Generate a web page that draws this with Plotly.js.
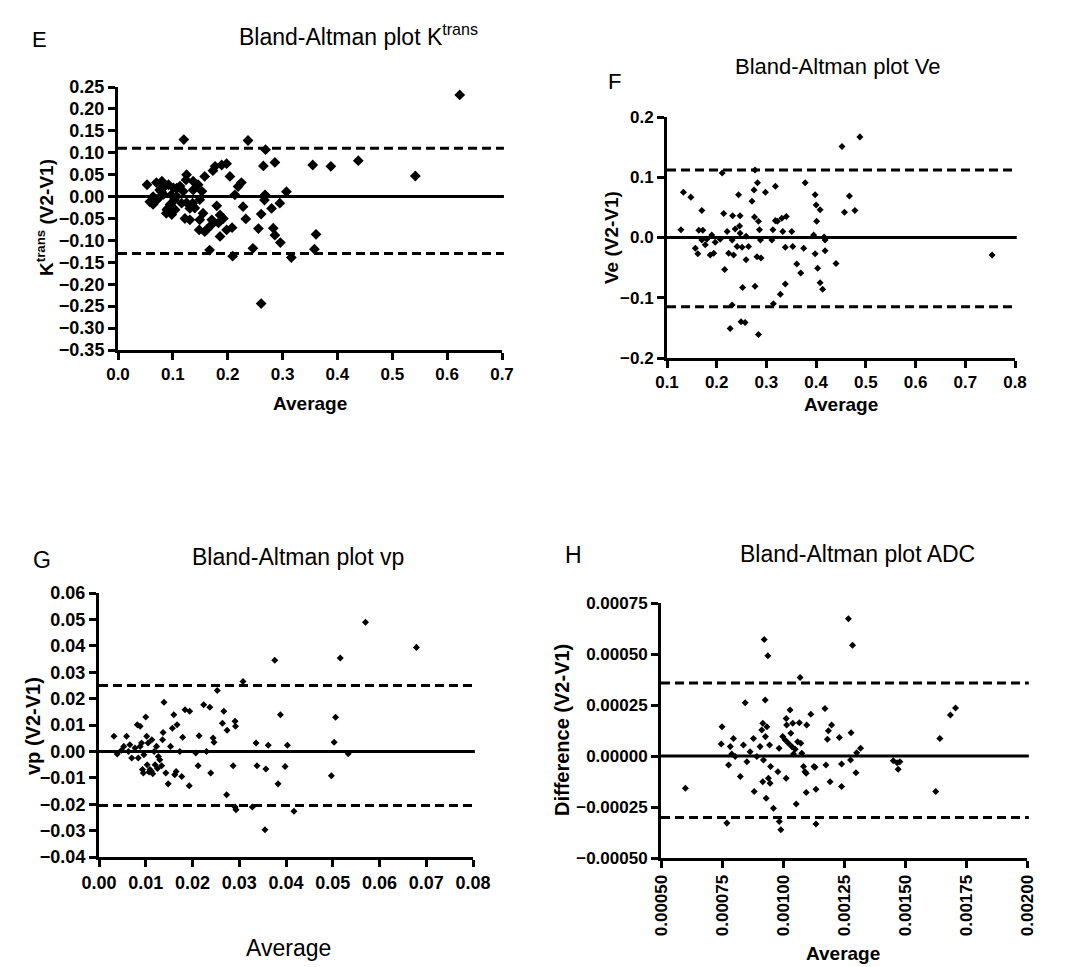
<!DOCTYPE html>
<html>
<head>
<meta charset="utf-8">
<script src="https://cdn.plot.ly/plotly-3.0.1.min.js"></script>
<style>
  html, body { margin: 0; padding: 0; background: #ffffff; }
  #chart { width: 1087px; height: 967px; }
</style>
</head>
<body>
<div id="chart"></div>
<script>
// Panel E: Ktrans
const eAvg = [0.053,0.058,0.064,0.064,0.070,0.070,0.073,0.076,0.079,0.080,0.083,0.085,0.088,0.089,0.091,0.092,0.095,0.097,0.098,0.101,0.103,0.104,0.107,0.107,0.113,0.116,0.119,0.120,0.122,0.124,0.125,0.125,0.131,0.131,0.136,0.137,0.137,0.140,0.146,0.148,0.149,0.149,0.153,0.155,0.158,0.158,0.162,0.167,0.170,0.171,0.173,0.177,0.180,0.183,0.186,0.186,0.189,0.192,0.198,0.198,0.204,0.208,0.209,0.213,0.219,0.225,0.228,0.233,0.237,0.246,0.256,0.261,0.261,0.265,0.267,0.268,0.269,0.280,0.283,0.286,0.286,0.295,0.296,0.307,0.316,0.355,0.358,0.361,0.388,0.438,0.542,0.623];
const eDiff = [0.027,-0.012,-0.018,0.000,-0.007,0.032,-0.005,0.015,0.011,0.035,0.005,0.023,-0.038,-0.030,-0.027,0.027,-0.018,0.004,-0.041,0.020,-0.008,-0.030,0.001,0.019,0.024,-0.015,0.012,0.130,-0.050,0.038,0.050,-0.014,-0.027,-0.053,-0.015,0.015,0.035,-0.026,0.027,-0.076,-0.053,-0.007,0.012,-0.038,0.046,-0.080,-0.075,-0.122,-0.065,-0.053,0.059,0.069,-0.021,-0.060,-0.042,-0.091,0.072,-0.050,0.075,-0.076,0.046,-0.071,-0.136,0.004,0.023,0.032,-0.023,-0.051,0.128,-0.118,-0.073,-0.040,-0.244,0.070,-0.008,0.004,0.107,-0.027,-0.072,0.078,-0.088,-0.015,-0.105,0.011,-0.139,0.072,-0.120,-0.086,0.069,0.082,0.047,0.232];
const eLines = [0.11, 0, -0.13];

// Panel F: Ve
const fAvg = [0.128,0.133,0.148,0.157,0.162,0.164,0.170,0.172,0.170,0.177,0.180,0.187,0.190,0.194,0.197,0.207,0.211,0.214,0.216,0.221,0.224,0.227,0.231,0.232,0.231,0.234,0.237,0.241,0.244,0.247,0.246,0.247,0.249,0.251,0.252,0.257,0.259,0.259,0.264,0.271,0.275,0.277,0.277,0.276,0.281,0.282,0.284,0.284,0.286,0.289,0.288,0.298,0.311,0.313,0.314,0.318,0.318,0.322,0.328,0.331,0.333,0.340,0.338,0.338,0.351,0.353,0.361,0.369,0.375,0.378,0.395,0.398,0.398,0.400,0.401,0.403,0.408,0.408,0.413,0.416,0.418,0.418,0.440,0.452,0.457,0.467,0.478,0.488,0.754];
const fDiff = [0.013,0.075,0.067,-0.018,-0.027,0.012,0.045,0.012,-0.004,-0.012,-0.003,-0.029,0.004,-0.026,-0.008,-0.003,0.107,0.040,-0.053,0.010,-0.026,-0.151,-0.112,0.036,-0.004,-0.029,0.014,-0.015,0.071,0.036,0.019,0.007,-0.140,-0.016,-0.083,-0.141,0.002,-0.037,-0.015,0.060,0.079,0.112,-0.081,0.034,-0.032,0.091,-0.161,0.027,0.013,-0.034,-0.004,0.075,-0.004,0.013,-0.110,0.085,0.028,0.027,-0.094,0.032,0.010,0.035,-0.077,-0.016,0.010,-0.015,-0.044,-0.059,-0.018,0.091,0.004,0.071,-0.027,0.054,0.027,-0.051,0.046,-0.075,-0.086,0.001,-0.022,-0.004,-0.043,0.151,0.042,0.069,0.045,0.167,-0.029];
const fLines = [0.112, 0, -0.115];

// Panel G: vp
const gAvg = [0.0032,0.0039,0.0048,0.0053,0.0059,0.0063,0.0066,0.0070,0.0077,0.0082,0.0088,0.0084,0.0088,0.0091,0.0093,0.0095,0.0096,0.0100,0.0102,0.0103,0.0105,0.0109,0.0113,0.0115,0.0118,0.0120,0.0123,0.0127,0.0130,0.0134,0.0136,0.0137,0.0139,0.0143,0.0148,0.0153,0.0157,0.0160,0.0162,0.0165,0.0167,0.0173,0.0177,0.0179,0.0184,0.0194,0.0193,0.0207,0.0212,0.0214,0.0224,0.0230,0.0237,0.0239,0.0244,0.0246,0.0253,0.0264,0.0267,0.0273,0.0274,0.0287,0.0291,0.0292,0.0293,0.0291,0.0308,0.0328,0.0336,0.0338,0.0355,0.0357,0.0362,0.0376,0.0383,0.0388,0.0398,0.0403,0.0417,0.0497,0.0503,0.0506,0.0516,0.0533,0.0570,0.0679,0.0107,0.0112,0.0125];
const gDiff = [0.0057,-0.0010,0.0004,0.0019,0.0057,0.0000,0.0025,-0.0025,0.0013,0.0101,0.0095,-0.0025,0.0019,0.0032,-0.0069,-0.0082,-0.0013,0.0130,0.0057,-0.0051,0.0032,-0.0069,0.0044,-0.0085,0.0000,-0.0051,0.0019,-0.0019,-0.0032,-0.0054,0.0044,0.0072,0.0186,-0.0082,-0.0123,0.0019,0.0088,0.0139,-0.0088,-0.0076,0.0101,0.0000,-0.0095,0.0054,0.0158,0.0152,-0.0130,-0.0006,-0.0054,0.0059,0.0177,0.0000,0.0167,-0.0082,0.0051,0.0035,0.0231,0.0107,0.0152,-0.0164,0.0080,-0.0054,0.0114,0.0095,-0.0221,-0.0211,0.0265,-0.0211,0.0032,-0.0054,-0.0297,-0.0067,0.0023,0.0345,-0.0123,0.0139,-0.0057,0.0023,-0.0227,-0.0092,0.0035,0.0129,0.0354,-0.0009,0.0489,0.0394,-0.0078,-0.0075,-0.0065];
const gLines = [0.025, 0, -0.0205];

// Panel H: ADC
const hAvg = [60.0e-5,75.0e-5,74.7e-5,77.0e-5,77.7e-5,78.4e-5,79.0e-5,79.7e-5,80.4e-5,82.5e-5,83.8e-5,84.5e-5,85.2e-5,86.5e-5,87.9e-5,88.2e-5,89.3e-5,90.6e-5,91.3e-5,91.7e-5,91.7e-5,92.3e-5,92.7e-5,92.8e-5,93.1e-5,93.4e-5,93.8e-5,94.0e-5,94.5e-5,94.7e-5,94.9e-5,92.0e-5,96.1e-5,97.9e-5,98.4e-5,98.5e-5,99.1e-5,99.9e-5,100.9e-5,101.3e-5,101.3e-5,101.5e-5,102.2e-5,102.9e-5,103.2e-5,103.6e-5,104.0e-5,104.3e-5,105.0e-5,105.4e-5,106.0e-5,106.7e-5,107.0e-5,107.3e-5,107.7e-5,108.4e-5,109.0e-5,109.5e-5,109.5e-5,109.7e-5,111.4e-5,112.7e-5,113.1e-5,113.5e-5,113.5e-5,117.2e-5,117.6e-5,118.2e-5,118.6e-5,119.3e-5,119.9e-5,123.1e-5,124.0e-5,124.0e-5,126.8e-5,127.7e-5,127.9e-5,128.5e-5,129.9e-5,130.2e-5,131.8e-5,145.2e-5,146.8e-5,147.2e-5,147.9e-5,162.6e-5,164.3e-5,168.6e-5,170.7e-5];
const hDiff = [-15.8e-5,14.3e-5,5.9e-5,-32.9e-5,-4.4e-5,4.6e-5,1.0e-5,8.6e-5,-0.3e-5,-10.1e-5,5.4e-5,26.1e-5,-2.8e-5,2.1e-5,8.6e-5,-17.4e-5,-0.3e-5,4.6e-5,12.7e-5,16.0e-5,-12.6e-5,57.1e-5,27.4e-5,9.5e-5,-20.7e-5,14.3e-5,49.1e-5,-10.9e-5,5.4e-5,-13.4e-5,-5.2e-5,-2.0e-5,-25.6e-5,-7.7e-5,3.8e-5,-32.1e-5,-36.2e-5,9.5e-5,7.8e-5,18.4e-5,-10.9e-5,15.2e-5,6.2e-5,22.5e-5,11.1e-5,4.6e-5,16.0e-5,1.0e-5,3.3e-5,-23.5e-5,7.0e-5,16.3e-5,38.5e-5,6.2e-5,1.3e-5,-5.2e-5,-7.7e-5,-8.5e-5,-17.9e-5,15.2e-5,20.5e-5,-5.2e-5,-5.5e-5,-16.3e-5,-33.3e-5,23.3e-5,-4.4e-5,8.2e-5,12.4e-5,-12.6e-5,15.2e-5,9.1e-5,-3.9e-5,-15.0e-5,67.3e-5,-2.0e-5,11.4e-5,54.3e-5,-8.2e-5,1.6e-5,3.8e-5,-2.3e-5,-3.3e-5,-6.5e-5,-2.8e-5,-17.4e-5,8.6e-5,20.1e-5,23.5e-5];
const hLines = [0.000358, 0, -0.000302];

const W = 1087, H = 967;
const FONT = 'Liberation Sans';
const px = v => v / W;
const py = v => 1 - v / H;

function scatter(x, y, xa, ya, size) {
  return {
    type: 'scatter', mode: 'markers', x: x, y: y, xaxis: xa, yaxis: ya,
    marker: { symbol: 'diamond', size: size, color: '#000000', line: { width: 0 } },
    hoverinfo: 'skip', showlegend: false, cliponaxis: false
  };
}

// Shared axis styling: thick black lines, outside ticks, bold numerals
function axisBase(domain, range, dtick, fmt, anchor, fsize) {
  return {
    domain: domain, range: range, dtick: dtick, tick0: range[0], tickformat: fmt,
    anchor: anchor, showline: true, linewidth: 3, linecolor: '#000',
    ticks: 'outside', ticklen: 7, tickwidth: 3, tickcolor: '#000',
    showgrid: false, zeroline: false, fixedrange: true,
    tickfont: { family: FONT, size: fsize, color: '#000', weight: 'bold' }
  };
}
function xAxis(domain, range, dtick, fmt, anchor, fsize, angle) {
  const a = axisBase(domain, range, dtick, fmt, anchor, fsize);
  a.tickangle = angle === undefined ? 0 : angle;
  return a;
}
function yAxis(domain, range, dtick, fmt, anchor, fsize) {
  return axisBase(domain, range, dtick, fmt, anchor, fsize);
}

// Mean (solid) and limits of agreement (dashed) for one panel
function refLines(vals, xa, ya) {
  return vals.map(v => ({
    type: 'line', xref: xa + ' domain', yref: ya, x0: 0, x1: 1.005, y0: v, y1: v,
    line: { color: '#000', width: 3, dash: v === 0 ? 'solid' : '9px,5px' },
    layer: 'below'
  }));
}

function label(text, x, y, size, bold, angle) {
  return {
    text: text,
    xref: 'paper', yref: 'paper', x: px(x), y: py(y),
    xanchor: 'center', yanchor: 'middle', showarrow: false,
    textangle: angle || 0,
    font: { family: FONT, size: size, color: '#000', weight: bold ? 'bold' : 'normal' }
  };
}

const traces = [
  scatter(eAvg, eDiff, 'x', 'y', 8.3),
  scatter(fAvg, fDiff, 'x2', 'y2', 5.4),
  scatter(gAvg, gDiff, 'x3', 'y3', 5.4),
  scatter(hAvg, hDiff, 'x4', 'y4', 5.4)
];

const layout = {
  width: W, height: H,
  margin: { l: 0, r: 0, t: 0, b: 0 },
  paper_bgcolor: '#ffffff', plot_bgcolor: 'rgba(0,0,0,0)',
  showlegend: false,
  xaxis:  xAxis([px(118), px(502)], [0, 0.7], 0.1, '.1f', 'y', 17),
  yaxis:  yAxis([py(350), py(87)], [-0.35, 0.25], 0.05, '.2f', 'x', 18),
  xaxis2: xAxis([px(667), px(1015)], [0.1, 0.8], 0.1, '.1f', 'y2', 17),
  yaxis2: yAxis([py(358), py(117)], [-0.2, 0.2], 0.1, '.1f', 'x2', 17),
  xaxis3: xAxis([px(99), px(473)], [0, 0.08], 0.01, '.2f', 'y3', 18),
  yaxis3: yAxis([py(857), py(593)], [-0.04, 0.06], 0.01, '.2f', 'x3', 18),
  xaxis4: xAxis([px(661), px(1027)], [0.0005, 0.002], 0.00025, '.5f', 'y4', 17, -90),
  yaxis4: yAxis([py(858), py(603)], [-0.0005, 0.00075], 0.00025, '.5f', 'x4', 17),
  shapes: [].concat(
    refLines(eLines, 'x', 'y'),
    refLines(fLines, 'x2', 'y2'),
    refLines(gLines, 'x3', 'y3'),
    refLines(hLines, 'x4', 'y4')
  ),
  annotations: [
    label('E', 39, 39, 22, false),
    label('Bland-Altman plot K<sup>trans</sup>', 358, 35, 23, false),
    label('K<sup>trans</sup> (V2-V1)', 45, 218, 19, true, -90),
    label('Average', 310, 403, 19, true),

    label('F', 614, 81, 22, false),
    label('Bland-Altman plot Ve', 837, 67, 22, false),
    label('Ve (V2-V1)', 611, 238, 19, true, -90),
    label('Average', 841, 404, 19, true),

    label('G', 42, 560, 23, false),
    label('Bland-Altman plot vp', 298, 557, 23, false),
    label('vp (V2-V1)', 33, 726, 20, true, -90),
    label('Average', 288, 948, 23, false),

    label('H', 573, 555, 23, false),
    label('Bland-Altman plot ADC', 857, 554, 23, false),
    label('Difference (V2-V1)', 562, 730, 20, true, -90),
    label('Average', 843, 953, 19, true)
  ]
};

Plotly.newPlot('chart', traces, layout, { staticPlot: true, displayModeBar: false });
</script>
</body>
</html>
